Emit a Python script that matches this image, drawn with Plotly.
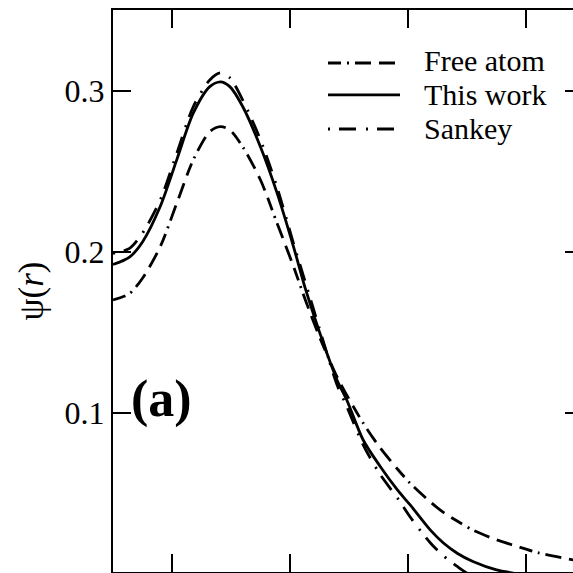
import plotly.graph_objects as go

# ---- data ----
r = [0.5, 0.64, 0.75, 0.9, 1.04, 1.18, 1.32, 1.41, 1.49, 1.6, 1.75, 1.89, 2.03,
     2.13, 2.25, 2.4, 2.48, 2.62, 2.76, 2.91, 3.02, 3.19, 3.3, 3.42, 3.55, 3.75,
     3.92, 4.1, 4.4]

free_atom = [0.170, 0.174, 0.1835, 0.203, 0.230, 0.257, 0.2745, 0.2776, 0.2756,
             0.265, 0.2445, 0.2177, 0.1907, 0.170, 0.147, 0.122, 0.111, 0.0935,
             0.0785, 0.065, 0.056, 0.0445, 0.038, 0.0325, 0.027, 0.021, 0.017,
             0.013, 0.0085]

this_work = [0.192, 0.1966, 0.206, 0.228, 0.257, 0.286, 0.3025, 0.3055, 0.3025,
             0.290, 0.265, 0.2365, 0.203, 0.177, 0.150, 0.120, 0.108, 0.083,
             0.067, 0.052, 0.0425, 0.027, 0.019, 0.0125, 0.0075, 0.0023, 0.0,
             -0.002, -0.004]

sankey = [0.199, 0.202, 0.2115, 0.232, 0.261, 0.290, 0.3066, 0.311, 0.308,
          0.294, 0.2694, 0.240, 0.205, 0.181, 0.152, 0.117, 0.104, 0.080,
          0.062, 0.047, 0.035, 0.019, 0.011, 0.0043, -0.002, -0.008, -0.012,
          -0.015, -0.018]

series_names = ["Free atom", "This work", "Sankey"]
y_tick_vals = [0.1, 0.2, 0.3]
y_tick_text = ["0.1", "0.2", "0.3"]
x_tick_vals = [1, 2, 3, 4]
panel_label = "(a)"

# ---- styles ----
FONT = "Liberation Serif, Times New Roman, serif"
dashes = {
    "Free atom": "13px,6px,2px,6px,16px,8px,16px,8px",
    "This work": "solid",
    "Sankey": "2px,9px,17px,10px",
}
LW = 2.8

fig = go.Figure()
for name, ys in zip(series_names, [free_atom, this_work, sankey]):
    fig.add_trace(go.Scatter(
        x=r, y=ys, mode="lines", name=name, showlegend=False,
        line=dict(color="black", width=LW, dash=dashes[name], shape="spline",
                  smoothing=0.8),
    ))

# empty trace to carry the right-hand tick axis
fig.add_trace(go.Scatter(x=[r[0]], y=[None], yaxis="y2", mode="lines",
                         showlegend=False, hoverinfo="skip"))

yr = [0.001, 0.3501]
xr = [0.5, 4.398]

fig.update_layout(
    width=573, height=573,
    margin=dict(l=113, r=0, t=10, b=1),
    paper_bgcolor="white", plot_bgcolor="white",
    font=dict(family=FONT, size=32, color="black"),
    xaxis=dict(range=xr, tickvals=x_tick_vals, ticks="inside", ticklen=18,
               tickwidth=2, tickcolor="black", showticklabels=False,
               showline=True, linecolor="black", linewidth=2, mirror="ticks",
               showgrid=False, zeroline=False),
    yaxis=dict(range=yr, tickvals=y_tick_vals, ticktext=y_tick_text,
               ticks="inside", ticklen=18, tickwidth=2, tickcolor="black",
               showline=True, linecolor="black", linewidth=2,
               showgrid=False, zeroline=False,
               tickfont=dict(family=FONT, size=32),
               title=dict(text="ψ(<i>r</i>)", font=dict(family=FONT, size=35),
                          standoff=10)),
    yaxis2=dict(range=yr, overlaying="y", side="right", tickvals=y_tick_vals,
                ticks="inside", ticklen=8, tickwidth=2, tickcolor="black",
                showticklabels=False, showline=False, showgrid=False,
                zeroline=False),
)

# panel label
fig.add_annotation(x=0.911, y=0.1085, xref="x", yref="y", text="<b>" + panel_label + "</b>",
                   showarrow=False, font=dict(family=FONT, size=52, color="black"))

# manual legend (samples + labels), placed in paper coordinates
leg_x0, leg_x1, leg_tx = 0.4674, 0.6239, 0.6717
line_rows = [0.9057, 0.8488, 0.7883]
text_rows = [0.9093, 0.8488, 0.7900]
for name, yl, yt in zip(series_names, line_rows, text_rows):
    fig.add_shape(type="line", xref="paper", yref="paper", x0=leg_x0, x1=leg_x1,
                  y0=yl, y1=yl, line=dict(color="black", width=LW, dash=dashes[name]))
    fig.add_annotation(x=leg_tx, y=yt, xref="paper", yref="paper", text=name,
                       xanchor="left", yanchor="middle", showarrow=False,
                       font=dict(family=FONT, size=30, color="black"))

fig.write_html("out.html")
